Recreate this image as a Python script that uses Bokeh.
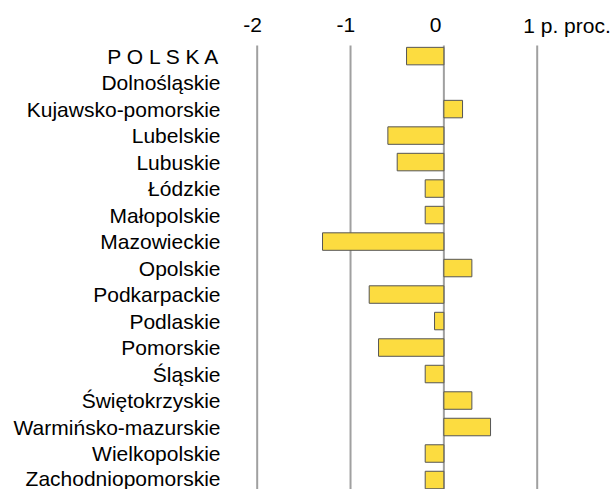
from bokeh.plotting import figure
from bokeh.models import Range1d, FixedTicker, ColumnDataSource
from bokeh.core.properties import value
from bokeh.embed import file_html
from bokeh.resources import INLINE

regions = ["P O L S K A", "Dolnośląskie", "Kujawsko-pomorskie", "Lubelskie", "Lubuskie",
           "Łódzkie", "Małopolskie", "Mazowieckie", "Opolskie", "Podkarpackie",
           "Podlaskie", "Pomorskie", "Śląskie", "Świętokrzyskie", "Warmińsko-mazurskie",
           "Wielkopolskie", "Zachodniopomorskie"]
values = [-0.4, 0.0, 0.2, -0.6, -0.5, -0.2, -0.2, -1.3, 0.3, -0.8,
          -0.1, -0.7, -0.2, 0.3, 0.5, -0.2, -0.2]
x_ticks = [-2, -1, 0, 1]
x_tick_labels = ["-2", "-1", "0", "1 p. proc."]

n = len(regions)
ypos = [n - 1 - i for i in range(n)]

FONT = "Liberation Sans"
FS = "21px"

# layout constants (pixels -> data)
ROW_PX = 26.5
X0, X1 = -2.286, 1.796
Y0 = -0.358                 # bottom of the visible area
Y_BARS_TOP = 16.40          # top of the bar area (grid lines start here)
Y_TOP = Y_BARS_TOP + 45 / ROW_PX
Y_LABELS = Y_TOP - 25 / ROW_PX

p = figure(width=611, height=489, output_backend="svg", toolbar_location=None,
           x_range=Range1d(X0, X1), y_range=Range1d(Y0, Y_TOP),
           x_axis_location=None, y_axis_location="left",
           min_border_left=230, min_border_right=0, min_border_top=0, min_border_bottom=0)
p.outline_line_color = None
p.background_fill_color = "white"
p.border_fill_color = "white"
p.xgrid.visible = False
p.ygrid.visible = False

# vertical grid lines at the value ticks
p.segment(x0=x_ticks, x1=x_ticks, y0=Y0, y1=Y_BARS_TOP, line_color="#a0a0a0", line_width=2)

# value tick labels along the top
p.text(x=x_ticks, y=Y_LABELS, text=x_tick_labels, text_font=value(FONT),
       text_font_size=FS, text_color="black", text_align="left",
       text_baseline="middle", x_offset=-14)

# left axis with region names
ya = p.yaxis[0]
ya.ticker = FixedTicker(ticks=ypos)
ya.major_label_overrides = {y: r for y, r in zip(ypos, regions)}
ya.axis_line_color = None
ya.major_tick_line_color = None
ya.minor_tick_line_color = None
ya.major_tick_out = 0
ya.major_tick_in = 0
ya.major_label_standoff = 10
ya.major_label_text_font = FONT
ya.major_label_text_font_size = FS
ya.major_label_text_color = "black"

outline = ["#555555" if v != 0 else "rgba(0,0,0,0)" for v in values]
src = ColumnDataSource(dict(y=ypos, v=values, lc=outline))
p.hbar(y="y", right="v", left=0, height=0.66, source=src, fill_color="#FCDC40",
       line_color="lc", line_width=1)

open("out.html", "w").write(file_html(p, INLINE))
